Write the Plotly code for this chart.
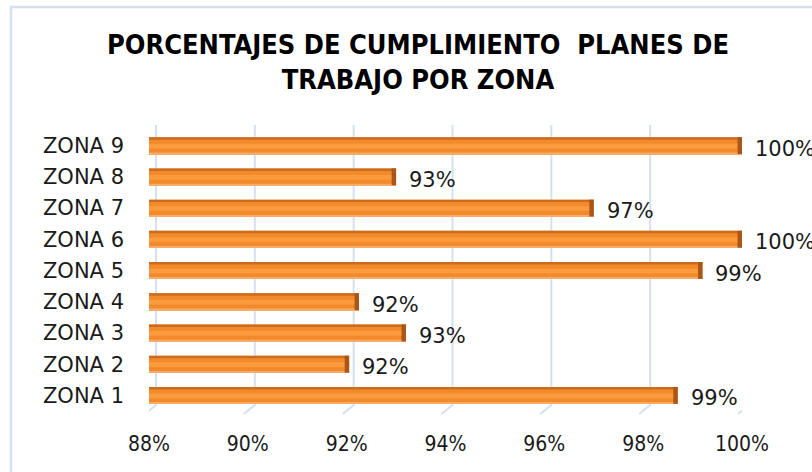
import plotly.graph_objects as go

zonas = ["ZONA 1", "ZONA 2", "ZONA 3", "ZONA 4", "ZONA 5", "ZONA 6", "ZONA 7", "ZONA 8", "ZONA 9"]
valores = [98.7, 92.05, 93.2, 92.25, 99.2, 100.0, 97.0, 93.0, 100.0]
etiquetas = ["99%", "92%", "93%", "92%", "99%", "100%", "97%", "93%", "100%"]
ticks_x = [88, 90, 92, 94, 96, 98, 100]
ticks_txt = ["88%", "90%", "92%", "94%", "96%", "98%", "100%"]
titulo = "PORCENTAJES DE CUMPLIMIENTO\u00a0 PLANES DE<br>TRABAJO POR ZONA"

X_MIN, X_MAX = 88, 100
GRID = "#D5E1F0"
FONT = "DejaVu Sans"
FONT_C = "DejaVu Sans Condensed"

fig = go.Figure()

base_x = [X_MIN] * len(valores)
lengths = [v - X_MIN for v in valores]

def bar_layer(color, offset, width, x=None, base=None):
    fig.add_trace(go.Bar(
        y=zonas, x=x if x is not None else lengths, base=base if base is not None else base_x,
        orientation="h", offset=offset, width=width,
        marker=dict(color=color, line=dict(width=0)),
        hoverinfo="skip", showlegend=False,
    ))

bar_layer("#F28A2B", -0.27, 0.54)     # main face
bar_layer("#F6AB66", -0.27, 0.05)     # lower light edge
bar_layer("#FB9B3E", -0.09, 0.15)     # highlight band
bar_layer("#CB6B1E", 0.19, 0.08)      # top dark edge
cap = 0.09
bar_layer("#A9561A", -0.27, 0.54, x=[cap] * len(valores), base=[v - cap for v in valores])  # end cap

for z, v, t in zip(zonas, valores, etiquetas):
    fig.add_annotation(x=v, y=z, text=t, showarrow=False, xanchor="left", xshift=11, yshift=-3,
                       font=dict(family=FONT, size=21, color="#1A1A1A"))

fig.add_annotation(text=titulo, xref="paper", yref="paper", x=(418 - 149) / 593, y=(411 - 61.5) / 281,
                   xanchor="center", yanchor="middle", showarrow=False,
                   font=dict(family=FONT_C, size=27, color="#000000", weight="bold"))

px_per = 593 / (X_MAX - X_MIN)
dx_top = 7 / px_per
dx_bot = -4 / px_per
y_top, y_bot, y_bot2 = 1.018, 0.0214, -0.0107
shapes = []
for g in ticks_x:
    shapes.append(dict(type="path", xref="x", yref="paper", layer="below",
                       path=f"M {g+dx_top},{y_top} L {g+dx_top},{y_bot} L {g+dx_bot},{y_bot2}",
                       line=dict(color=GRID, width=2)))
shapes.append(dict(type="line", xref="x", yref="paper", layer="below",
                   x0=X_MIN + dx_bot, x1=X_MIN + dx_bot, y0=y_top - 0.01, y1=y_bot2,
                   line=dict(color=GRID, width=2)))
shapes.append(dict(type="rect", xref="paper", yref="paper", layer="below",
                   x0=(11 - 149) / 593, x1=1.2, y0=(411 - 7) / 281, y1=-0.3,
                   line=dict(color=GRID, width=2.5), fillcolor="rgba(0,0,0,0)"))

fig.update_layout(
    width=812, height=472,
    margin=dict(l=149, r=70, t=130, b=61),
    paper_bgcolor="white", plot_bgcolor="white",
    barmode="overlay",
    shapes=shapes,
    xaxis=dict(range=[X_MIN, X_MAX], tickvals=ticks_x, ticktext=ticks_txt,
               showgrid=False, zeroline=False, showline=False, ticks="",
               ticklabelstandoff=18,
               tickfont=dict(family=FONT_C, size=21, color="#1A1A1A")),
    yaxis=dict(categoryorder="array", categoryarray=zonas, range=[-0.5, 8.5],
               showgrid=False, zeroline=False, showline=False, ticks="",
               ticklabelstandoff=24,
               tickfont=dict(family=FONT, size=21, color="#1A1A1A")),
)

fig.write_html("out.html", config={"displayModeBar": False},
               post_script="document.body.style.margin='0';document.body.style.overflow='hidden';")
